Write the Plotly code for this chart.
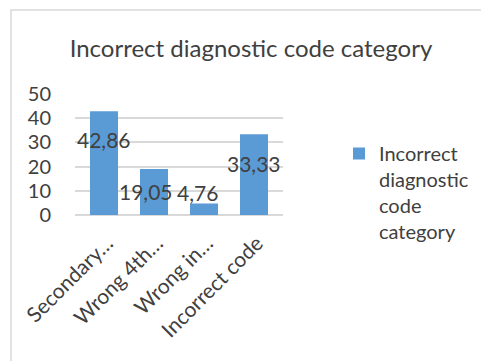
import plotly.graph_objects as go

categories = ["Secondary…", "Wrong 4th…", "Wrong in…", "Incorrect code"]
values = [42.86, 19.05, 4.76, 33.33]
value_labels = ["42,86", "19,05", "4,76", "33,33"]
label_shift_px = [-28, -23, 11, -29]
label_xshift_px = [0, -8, -7, 0]
series_name = "Incorrect diagnostic code category"
y_ticks = [0, 10, 20, 30, 40, 50]

FONT = "Lato, 'Open Sans', sans-serif"
TXT = "#404040"
W, H = 481, 361
L, R, T, B = 75, 198, 94, 146
pw, ph = W - L - R, H - T - B

fig = go.Figure()
fig.add_trace(go.Bar(
    x=categories, y=values, name="Incorrect<br>diagnostic<br>code<br>category",
    marker=dict(color="#5b9bd5", line=dict(width=0)),
    showlegend=True,
))

for c, v, t, dy, dx in zip(categories, values, value_labels, label_shift_px, label_xshift_px):
    fig.add_annotation(x=c, y=v, text=t, showarrow=False, yshift=dy, xshift=dx,
                       font=dict(family=FONT, size=21, color=TXT))

def px_x(p):
    return (p - L) / pw

def px_y(p):
    return (H - B - p) / ph

fig.add_shape(type="rect", xref="paper", yref="paper",
              x0=px_x(11), x1=px_x(500), y0=px_y(380), y1=px_y(10),
              line=dict(color="#d9d9d9", width=1.5), fillcolor="rgba(0,0,0,0)", layer="below")

fig.update_layout(
    width=W, height=H,
    margin=dict(l=L, r=R, t=T, b=B, pad=0, autoexpand=False),
    paper_bgcolor="white", plot_bgcolor="white",
    bargap=0.44,
    title=dict(text="Incorrect diagnostic code category", x=251 / W, y=1 - 49 / H,
               xanchor="center", yanchor="middle",
               font=dict(family=FONT, size=24, color=TXT)),
    font=dict(family=FONT, color=TXT),
    legend=dict(x=px_x(339), y=px_y(134), xanchor="left", yanchor="top",
                valign="top",
                font=dict(family=FONT, size=20, color=TXT),
                itemsizing="constant", bgcolor="rgba(0,0,0,0)"),
    xaxis=dict(tickangle=-45, tickfont=dict(family=FONT, size=21, color=TXT),
               showgrid=False, showline=False, ticks="", ticklen=0,
               ticklabelstandoff=11, ticklabelshift=3, automargin=False),
    yaxis=dict(range=[0, 50], tickvals=y_ticks, showgrid=True, gridcolor="#d9d9d9",
               gridwidth=1.5, zeroline=True, zerolinecolor="#d9d9d9", zerolinewidth=1.5,
               showline=False, ticks="outside", ticklen=19, tickcolor="rgba(0,0,0,0)",
               automargin=False,
               tickfont=dict(family=FONT, size=20, color=TXT)),
)

fig.write_html("out.html")
